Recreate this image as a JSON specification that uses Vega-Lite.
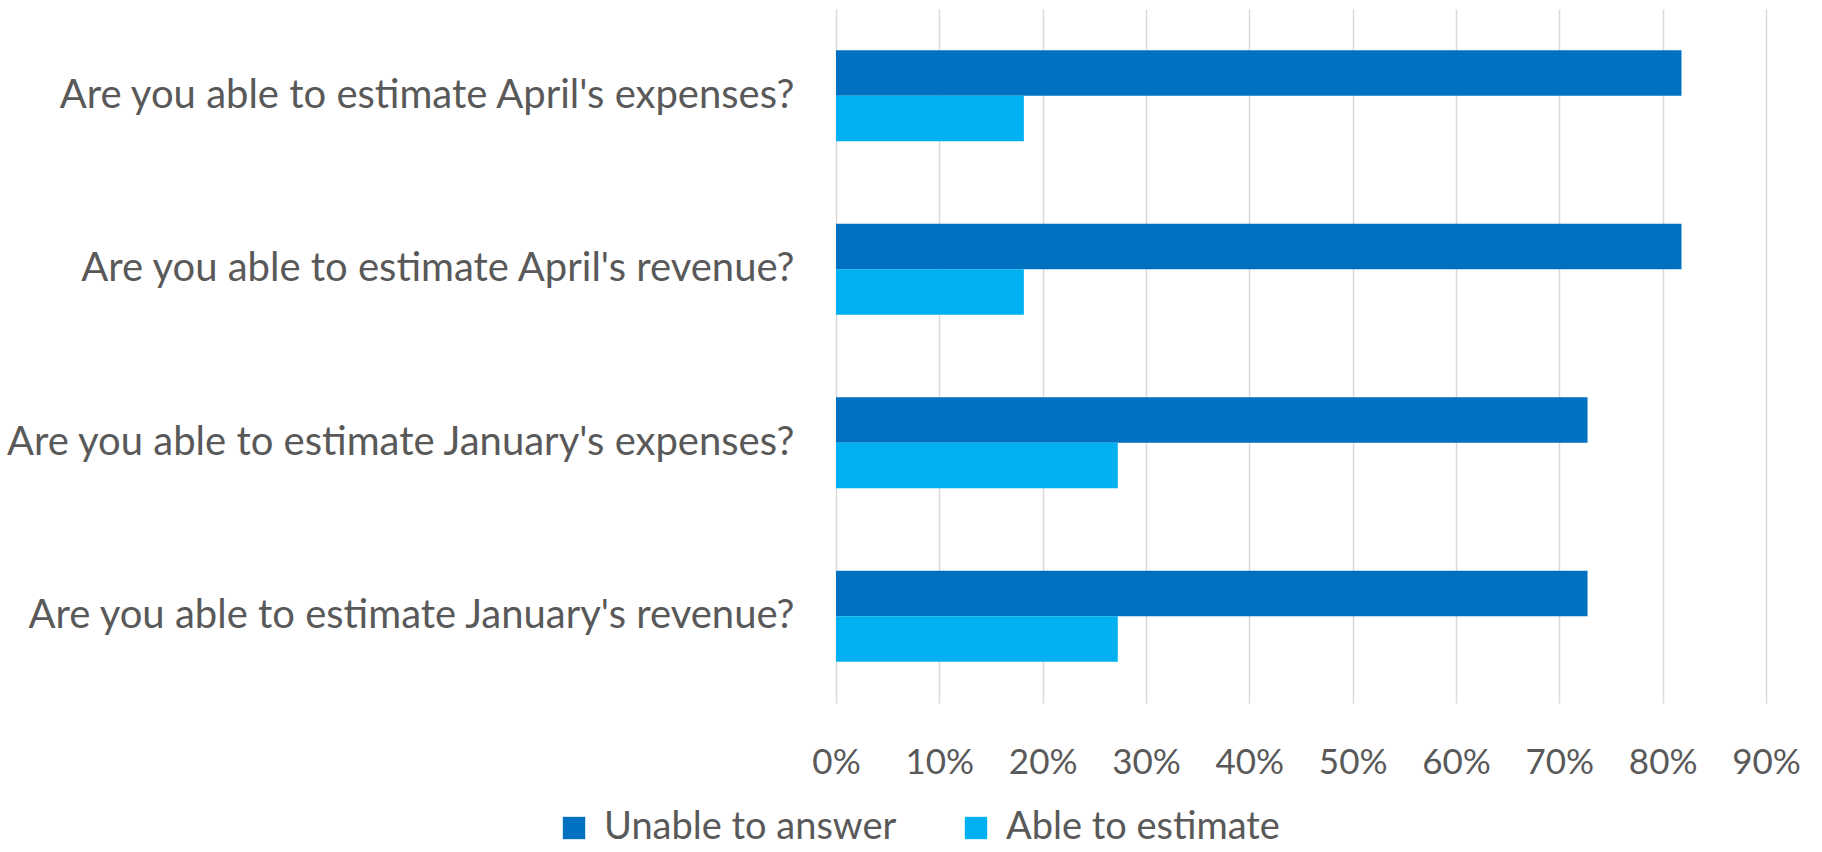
{
  "$schema": "https://vega.github.io/schema/vega-lite/v6.json",
  "autosize": "none",
  "width": 930,
  "height": 694,
  "padding": {"left": 836, "top": 9, "right": 56, "bottom": 149},
  "background": "white",
  "config": {
    "view": {"stroke": null},
    "font": "Lato",
    "axis": {"labelFont": "Lato", "labelColor": "#595959"},
    "legend": {"labelFont": "Lato", "labelColor": "#595959"}
  },
  "data": {
    "values": [
      {"question": "Are you able to estimate April's expenses?", "response": "Unable to answer", "share": 0.8182},
      {"question": "Are you able to estimate April's expenses?", "response": "Able to estimate", "share": 0.1818},
      {"question": "Are you able to estimate April's revenue?", "response": "Unable to answer", "share": 0.8182},
      {"question": "Are you able to estimate April's revenue?", "response": "Able to estimate", "share": 0.1818},
      {"question": "Are you able to estimate January's expenses?", "response": "Unable to answer", "share": 0.7273},
      {"question": "Are you able to estimate January's expenses?", "response": "Able to estimate", "share": 0.2727},
      {"question": "Are you able to estimate January's revenue?", "response": "Unable to answer", "share": 0.7273},
      {"question": "Are you able to estimate January's revenue?", "response": "Able to estimate", "share": 0.2727}
    ]
  },
  "mark": {"type": "bar"},
  "encoding": {
    "y": {
      "field": "question",
      "type": "nominal",
      "sort": null,
      "scale": {"paddingInner": 0.475, "paddingOuter": 0.2375},
      "axis": {
        "title": null,
        "domain": false,
        "ticks": false,
        "labelFontSize": 40,
        "labelPadding": 42,
        "labelLimit": 900
      }
    },
    "yOffset": {
      "field": "response",
      "type": "nominal",
      "sort": ["Unable to answer", "Able to estimate"]
    },
    "x": {
      "field": "share",
      "type": "quantitative",
      "scale": {"domain": [0, 0.9], "nice": false},
      "axis": {
        "title": null,
        "format": ".0%",
        "values": [0, 0.1, 0.2, 0.3, 0.4, 0.5, 0.6, 0.7, 0.8, 0.9],
        "domain": false,
        "ticks": false,
        "grid": true,
        "gridColor": "#d9d9d9",
        "gridWidth": 1.5,
        "labelFontSize": 35,
        "labelPadding": 42,
        "labelBaseline": "top",
        "labelFlush": false
      }
    },
    "color": {
      "field": "response",
      "type": "nominal",
      "sort": ["Unable to answer", "Able to estimate"],
      "scale": {"domain": ["Unable to answer", "Able to estimate"], "range": ["#0070C0", "#00B0F0"]},
      "legend": {
        "title": null,
        "orient": "none",
        "direction": "horizontal",
        "legendX": -281,
        "legendY": 800,
        "symbolType": "square",
        "symbolSize": 500,
        "symbolStrokeWidth": 0,
        "labelFontSize": 38,
        "labelLimit": 700,
        "labelOffset": 11,
        "columnPadding": 60
      }
    }
  }
}
